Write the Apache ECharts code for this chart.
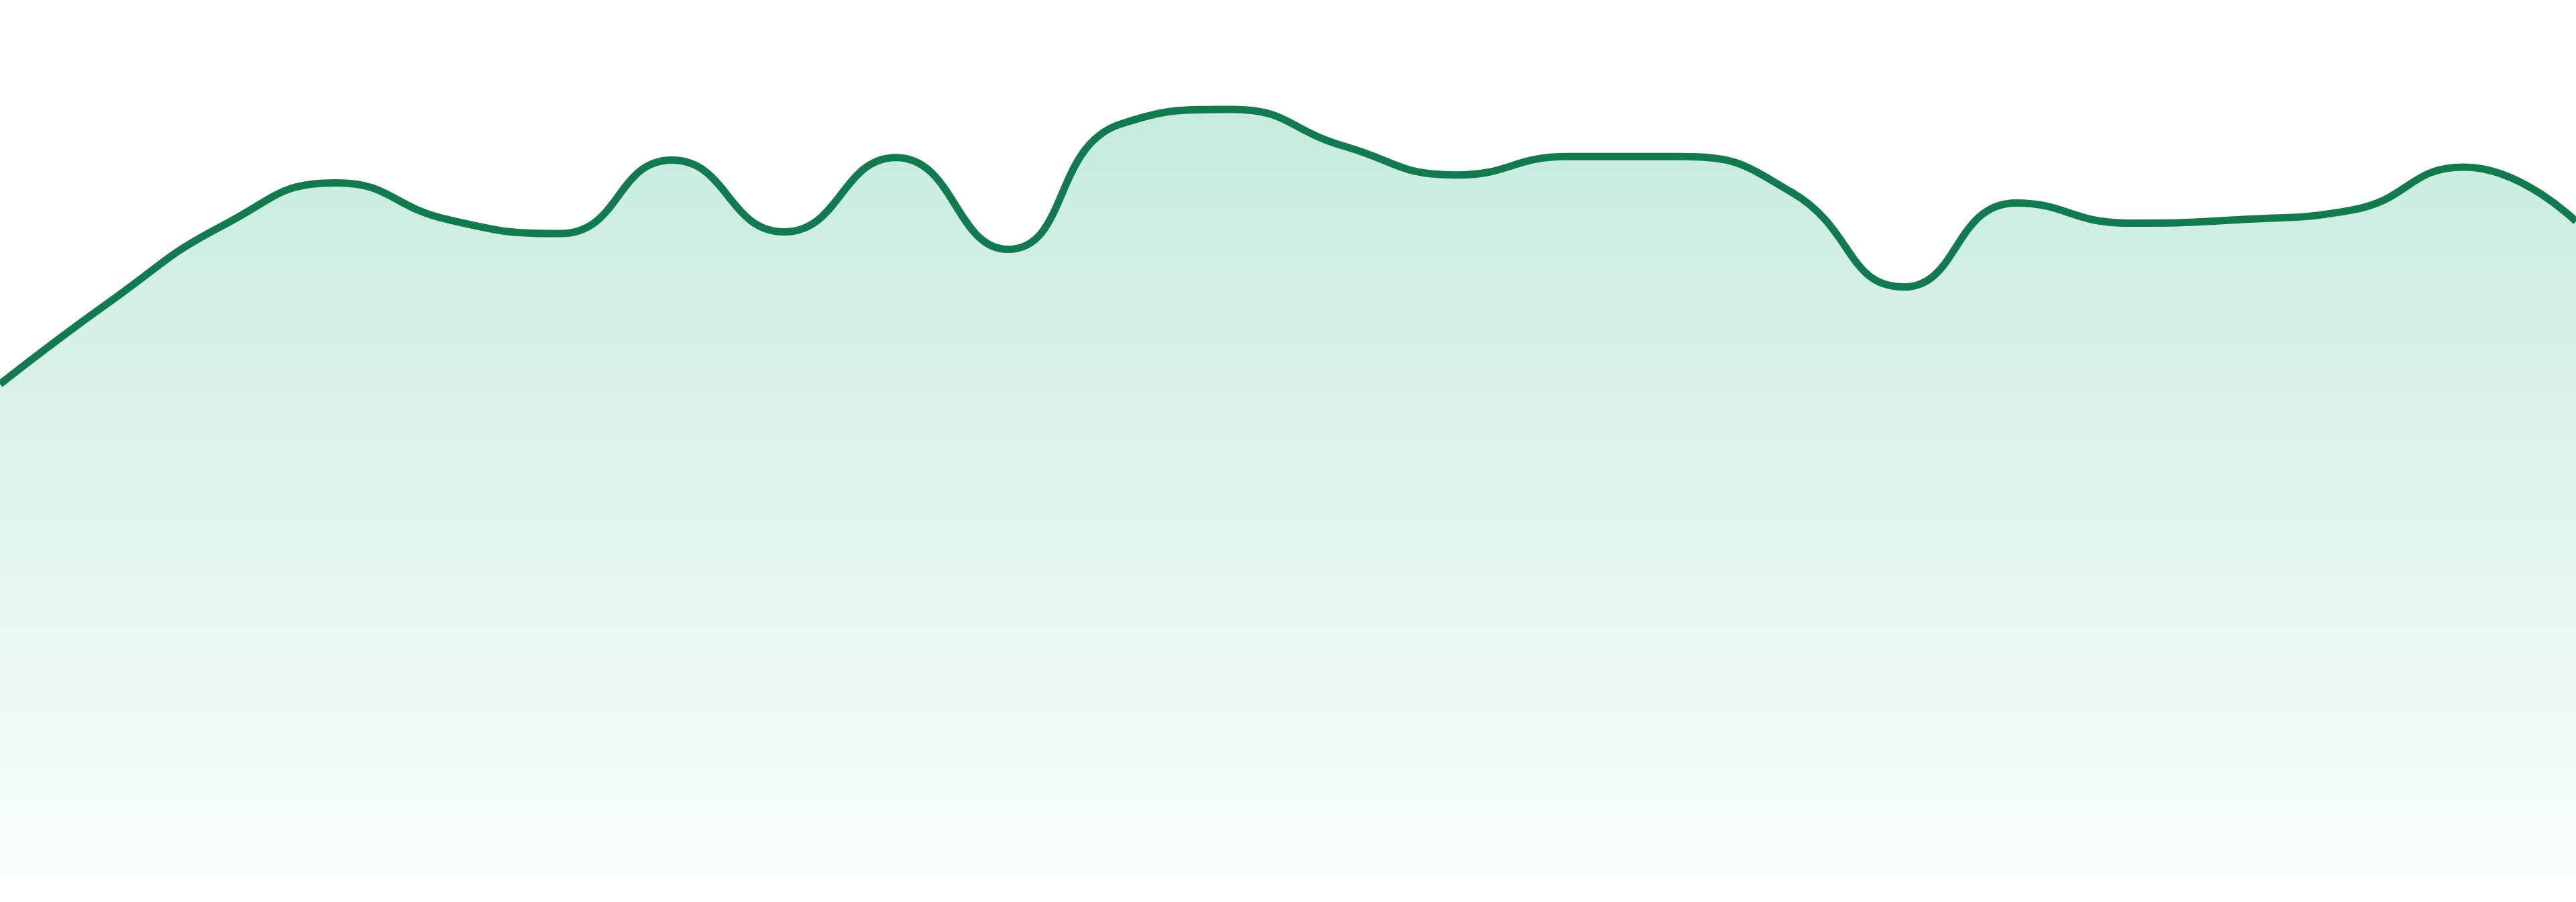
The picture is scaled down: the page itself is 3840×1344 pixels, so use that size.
<!DOCTYPE html>
<html>
<head>
<meta charset="utf-8">
<script src="https://cdn.jsdelivr.net/npm/echarts@6/dist/echarts.min.js"></script>
<style>
html,body{margin:0;padding:0;background:#ffffff;width:100%;height:100%;overflow:hidden;}
#chart{width:100vw;height:100vh;}
</style>
</head>
<body>
<div id="chart"></div>
<script>
const categories = ['1','2','3','4','5','6','7','8','9','10','11','12','13','14','15','16','17','18','19','20','21','22','23','24'];
const values = [56.1, 65.7, 74.3, 79.1, 74.9, 73.3, 81.7, 73.5, 82.0, 71.5, 85.8, 87.5, 83.3, 80.0, 82.1, 82.1, 78.0, 67.2, 76.8, 74.5, 74.9, 76.0, 80.9, 74.7];
const yMin = 0;
const yMax = 100;

const chart = echarts.init(document.getElementById('chart'), null, {renderer: 'canvas'});
chart.setOption({
  animation: false,
  backgroundColor: '#ffffff',
  grid: {left: 0, right: 0, top: 0, bottom: '3%', containLabel: false},
  xAxis: {
    type: 'category',
    data: categories,
    boundaryGap: false,
    show: false
  },
  yAxis: {
    type: 'value',
    min: yMin,
    max: yMax,
    show: false,
    splitLine: {show: false}
  },
  series: [{
    type: 'line',
    data: values,
    smooth: true,
    symbol: 'none',
    lineStyle: {color: '#117a4f', width: 11},
    areaStyle: {
      color: new echarts.graphic.LinearGradient(0, 0, 0, 1, [
        {offset: 0, color: 'rgba(10,170,115,0.33)'},
        {offset: 1, color: 'rgba(10,170,115,0.03)'}
      ])
    }
  }]
});
window.addEventListener('resize', function(){ chart.resize(); });
</script>
</body>
</html>
